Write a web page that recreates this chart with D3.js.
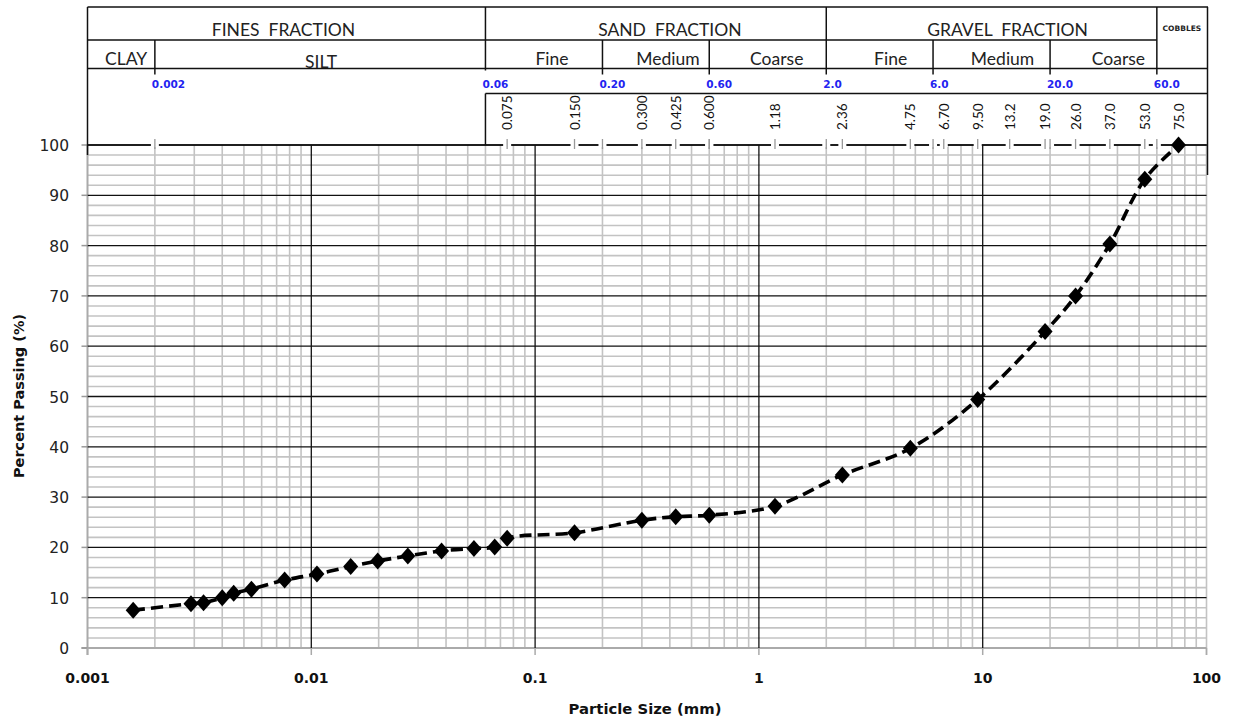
<!DOCTYPE html>
<html><head><meta charset="utf-8">
<script src="https://cdn.jsdelivr.net/npm/d3@7"></script>
<style>body{margin:0;background:#fff}svg{display:block}</style>
</head><body>
<svg id="c" width="1239" height="722"></svg>
<script>
// ---- data ----
const particleSize = [0.0016,0.0029,0.0033,0.0040,0.0045,0.0054,0.0076,0.0106,0.0150,0.0198,0.0270,0.0382,0.0533,0.066,0.075,0.150,0.300,0.425,0.600,1.18,2.36,4.75,9.50,19.0,26.0,37.0,53.0,75.0];
const percentPassing = [7.5,8.8,9.0,10.0,10.9,11.7,13.5,14.7,16.2,17.3,18.3,19.3,19.8,20.1,21.8,22.9,25.4,26.1,26.4,28.2,34.4,39.7,49.4,62.9,70.0,80.3,93.2,100];
const xTickValues = [0.001,0.01,0.1,1,10,100];
const xTickLabels = ["0.001","0.01","0.1","1","10","100"];
const yTickValues = [0,10,20,30,40,50,60,70,80,90,100];
const sieveSizes = [0.075,0.150,0.300,0.425,0.600,1.18,2.36,4.75,6.70,9.50,13.2,19.0,26.0,37.0,53.0,75.0];
const sieveLabels = ["0.075","0.150","0.300","0.425","0.600","1.18","2.36","4.75","6.70","9.50","13.2","19.0","26.0","37.0","53.0","75.0"];
const boundaryValues = [0.002,0.06,0.20,0.60,2.0,6.0,20.0,60.0];
const boundaryLabels = ["0.002","0.06","0.20","0.60","2.0","6.0","20.0","60.0"];
const fractionNames = ["FINES\u00A0\u00A0FRACTION","SAND\u00A0\u00A0FRACTION","GRAVEL\u00A0\u00A0FRACTION"];
const fractionBounds = [[0.001,0.06],[0.06,2.0],[2.0,60.0]];
const subNames = ["CLAY","SILT","Fine","Medium","Coarse","Fine","Medium","Coarse"];
const subBounds = [[0.001,0.002],[0.002,0.06],[0.06,0.2],[0.2,0.6],[0.6,2.0],[2.0,6.0],[6.0,20.0],[20.0,60.0]];

// ---- layout ----
const svg = d3.select("#c");
const L = 87.5, R = 1206.5, T = 145, B = 648;
const x = d3.scaleLog().domain([0.001,100]).range([L,R]);
const y = d3.scaleLinear().domain([0,100]).range([B,T]);
const GRAY = "#c3c3c3", BLK = "#111";

const g = svg.append("g");
// minor vertical gridlines
const minorX = [];
[0.001,0.01,0.1,1,10].forEach(d=>{for(let k=2;k<=9;k++) minorX.push(k*d);});
g.selectAll(".mvx").data(minorX).join("line")
  .attr("x1",d=>x(d)).attr("x2",d=>x(d)).attr("y1",T).attr("y2",B)
  .attr("stroke",GRAY).attr("stroke-width",1.6);
// minor horizontal
const minorY = d3.range(2,100,2).filter(v=>v%10!==0);
g.selectAll(".mhy").data(minorY).join("line")
  .attr("x1",L).attr("x2",R).attr("y1",d=>y(d)).attr("y2",d=>y(d))
  .attr("stroke",GRAY).attr("stroke-width",1.6);
// edge gray lines
g.append("line").attr("x1",L).attr("x2",L).attr("y1",T).attr("y2",B+7).attr("stroke","#aaa").attr("stroke-width",2);
g.append("line").attr("x1",R).attr("x2",R).attr("y1",T).attr("y2",B+7).attr("stroke",GRAY).attr("stroke-width",1.6);
g.append("line").attr("x1",L-6).attr("x2",R).attr("y1",B).attr("y2",B).attr("stroke","#aaa").attr("stroke-width",2);
// major horizontal
g.selectAll(".My").data(yTickValues.filter(v=>v>0)).join("line")
  .attr("x1",L).attr("x2",R).attr("y1",d=>y(d)).attr("y2",d=>y(d))
  .attr("stroke",BLK).attr("stroke-width",1.3);
// major vertical
g.selectAll(".Mx").data(xTickValues.slice(1,-1)).join("line")
  .attr("x1",d=>x(d)).attr("x2",d=>x(d)).attr("y1",T).attr("y2",B)
  .attr("stroke",BLK).attr("stroke-width",1.3);
// y ticks
g.selectAll(".yt").data(yTickValues).join("line")
  .attr("x1",L-6).attr("x2",L).attr("y1",d=>y(d)).attr("y2",d=>y(d))
  .attr("stroke","#999").attr("stroke-width",1.5);
// x ticks
g.selectAll(".xt").data(xTickValues).join("line")
  .attr("x1",d=>x(d)).attr("x2",d=>x(d)).attr("y1",B).attr("y2",B+7)
  .attr("stroke","#aaa").attr("stroke-width",1.5);

// y labels
g.selectAll(".yl").data(yTickValues).join("text")
  .attr("x",69).attr("y",d=>y(d)+6).attr("text-anchor","end")
  .attr("font-family","DejaVu Sans, Verdana, sans-serif").attr("font-size",15.5).attr("fill","#222")
  .text(d=>d);
// x labels
g.selectAll(".xl").data(xTickValues).join("text")
  .attr("x",d=>x(d)).attr("y",683).attr("text-anchor","middle")
  .attr("font-family","DejaVu Sans, Verdana, sans-serif").attr("font-weight","bold").attr("font-size",14).attr("fill","#111")
  .text((d,i)=>xTickLabels[i]);
// axis titles
svg.append("text").attr("x",645).attr("y",714).attr("text-anchor","middle")
  .attr("font-family","DejaVu Sans, Verdana, sans-serif").attr("font-weight","bold").attr("font-size",14.8).attr("fill","#111")
  .text("Particle Size (mm)");
svg.append("text").attr("transform","translate(24,396) rotate(-90)").attr("text-anchor","middle")
  .attr("font-family","DejaVu Sans, Verdana, sans-serif").attr("font-weight","bold").attr("font-size",14.5).attr("fill","#111")
  .text("Percent Passing (%)");

// ---- header table ----
const h = svg.append("g").attr("stroke",BLK).attr("stroke-width",1.5);
const yTop=7, yR1=40, yR2=68.5, yR3=93.5;
const H=(x1,x2,yy)=>h.append("line").attr("x1",x1).attr("x2",x2).attr("y1",yy).attr("y2",yy);
const V=(xx,y1,y2)=>h.append("line").attr("x1",xx).attr("x2",xx).attr("y1",y1).attr("y2",y2);
H(L,1208,yTop);
H(L,x(60),yR1);
H(L,1208,yR2);
H(x(0.06),1208,yR3);
V(L,yTop,155);
V(1207.5,yTop,175);
V(x(0.06),yTop,yR2+2);
V(x(0.06),yR3,T);
V(x(2.0),yTop,yR2+6);
V(x(60),yTop,yR2+6);
[0.002,0.2,0.6,6.0,20.0].forEach(v=>V(x(v),yR1,yR2+6));
// top line of plot (y=100) with sieve ticks breaking the line
H(L,1208,T).attr("stroke-width",1.6);
const tickVals = [0.002].concat(sieveSizes.filter(v=>v<75)).concat([0.2,0.6,2.0,6.0,20.0,60.0]);
svg.selectAll(".gap").data(tickVals).join("rect")
  .attr("x",d=>x(d)-4).attr("y",T-2).attr("width",8).attr("height",4).attr("fill","#fff");
svg.selectAll(".stk").data(tickVals).join("line")
  .attr("x1",d=>x(d)).attr("x2",d=>x(d)).attr("y1",T-6).attr("y2",T+4)
  .attr("stroke","#999").attr("stroke-width",1.3);

const HF = "Lato, 'Open Sans', sans-serif";
// fraction names
const fracDx = [-3,14,16];
svg.selectAll(".fn").data(fractionNames).join("text")
  .attr("x",(d,i)=>(x(fractionBounds[i][0])+x(fractionBounds[i][1]))/2+fracDx[i]).attr("y",36)
  .attr("text-anchor","middle").attr("font-family",HF).attr("font-size",17.5).attr("fill","#222")
  .text(d=>d);
svg.append("text").attr("x",(x(60)+1207)/2).attr("y",31).attr("text-anchor","middle")
  .attr("font-family","DejaVu Sans, sans-serif").attr("font-weight","bold").attr("font-size",7.5).attr("fill","#222")
  .text("COBBLES");
const subDx = [5,1,8,12,9,11,11,15];
svg.selectAll(".sn").data(subNames).join("text")
  .attr("x",(d,i)=>(x(subBounds[i][0])+x(subBounds[i][1]))/2+subDx[i]).attr("y",(d,i)=>i===1?68:65)
  .attr("text-anchor","middle").attr("font-family",HF).attr("font-size",17.5).attr("fill","#222")
  .text(d=>d);
// boundary labels (blue)
svg.selectAll(".bl").data(boundaryValues).join("text")
  .attr("x",d=>x(d)-3).attr("y",88)
  .attr("font-family","DejaVu Sans, Verdana, sans-serif").attr("font-weight","bold").attr("font-size",10.5).attr("fill","#2323f0")
  .text((d,i)=>boundaryLabels[i]);
// sieve labels (rotated)
svg.selectAll(".sl").data(sieveSizes).join("text")
  .attr("transform",d=>`translate(${x(d)+5},130) rotate(-90)`)
  .attr("font-family","Lato, 'Liberation Sans', sans-serif").attr("font-size",13.5).attr("fill","#111")
  .text((d,i)=>sieveLabels[i]);

// ---- data line + markers ----
const pts = particleSize.map((s,i)=>[s,percentPassing[i]]);
const line = d3.line().x(d=>x(d[0])).y(d=>y(d[1])).curve(d3.curveCatmullRom.alpha(0.5));
svg.append("path").attr("d",line(pts)).attr("fill","none").attr("stroke","#000")
  .attr("stroke-width",3.6).attr("stroke-dasharray","12,6");
svg.selectAll(".mk").data(pts).join("path")
  .attr("transform",d=>`translate(${x(d[0])},${y(d[1])})`)
  .attr("d","M0,-8.5L7.5,0L0,8.5L-7.5,0Z").attr("fill","#000");
</script>
</body></html>
